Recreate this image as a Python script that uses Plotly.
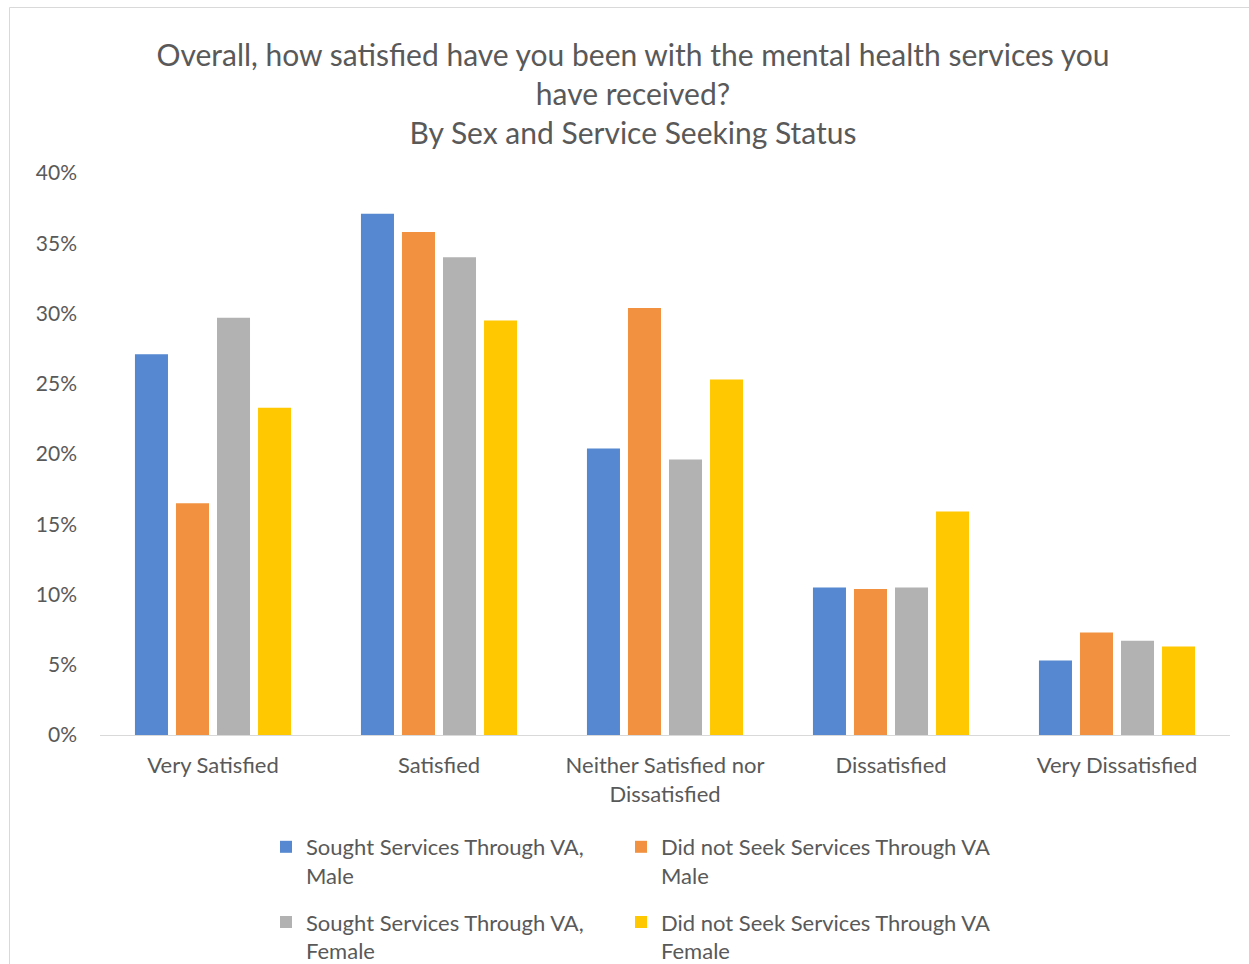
import plotly.graph_objects as go

categories = ["Very Satisfied", "Satisfied", "Neither Satisfied nor<br>Dissatisfied",
              "Dissatisfied", "Very Dissatisfied"]
series_names = ["Sought Services Through VA,<br>Male",
                "Did not Seek Services Through VA<br>Male",
                "Sought Services Through VA,<br>Female",
                "Did not Seek Services Through VA<br>Female"]
va_male = [0.271, 0.371, 0.204, 0.105, 0.053]
nonva_male = [0.165, 0.358, 0.304, 0.104, 0.073]
va_female = [0.297, 0.340, 0.196, 0.105, 0.067]
nonva_female = [0.233, 0.295, 0.253, 0.159, 0.063]
colors = ["#5588D0", "#F29240", "#B2B2B2", "#FFC800"]
legend_ids = ["legend", "legend2", "legend", "legend2"]
y_ticks = [0, 0.05, 0.10, 0.15, 0.20, 0.25, 0.30, 0.35, 0.40]

FONT = "Lato"
TXT = "#595959"

W, H = 1249, 964
L, R, T, B = 100, 19, 173, 229
pw = W - L - R
ph = H - T - B

fig = go.Figure()
for i, vals in enumerate([va_male, nonva_male, va_female, nonva_female]):
    fig.add_trace(go.Bar(
        x=categories, y=vals, name=series_names[i],
        marker=dict(color=colors[i], line=dict(width=0)),
        legend=legend_ids[i], legendgroup=f"g{i}",
    ))

def px2x(p):
    return (p - L) / pw

def py2y(p):
    return (H - B - p) / ph

fig.update_layout(
    width=W, height=H, autosize=False,
    margin=dict(l=L, r=R, t=T, b=B, autoexpand=False),
    paper_bgcolor="white", plot_bgcolor="white",
    font=dict(family=FONT, color=TXT, size=22),
    barmode="group", bargap=0.274, bargroupgap=0.195,
    title=dict(
        text="Overall, how satisfied have you been with the mental health services you<br>have received?<br>By Sex and Service Seeking Status",
        x=px2x(633), xref="paper", xanchor="center",
        y=1 - 66 / H, yref="container", yanchor="top",
        font=dict(family=FONT, size=30, color=TXT),
    ),
    xaxis=dict(showgrid=False, showline=True, linecolor="#D9D9D9", linewidth=1,
               ticks="", tickfont=dict(size=22, color=TXT), ticklabelstandoff=11),
    yaxis=dict(range=[0, 0.40], tickvals=y_ticks, tickformat=".0%",
               showgrid=False, zeroline=False, showline=False, ticks="",
               tickfont=dict(size=21, color=TXT), ticklabelstandoff=22),
    legend=dict(orientation="v", x=px2x(266), xanchor="left", y=py2y(826), yanchor="top",
                font=dict(size=22, color=TXT), tracegroupgap=15, bgcolor="rgba(0,0,0,0)",
                itemwidth=30, valign="top"),
    legend2=dict(orientation="v", x=px2x(621), xanchor="left", y=py2y(826), yanchor="top",
                 font=dict(size=22, color=TXT), tracegroupgap=15, bgcolor="rgba(0,0,0,0)",
                 itemwidth=30, valign="top"),
    shapes=[dict(type="rect", xref="paper", yref="paper",
                 x0=px2x(9.5), x1=px2x(1265), y0=py2y(990), y1=py2y(7.5),
                 line=dict(color="#D9D9D9", width=1), fillcolor="rgba(0,0,0,0)", layer="below")],
)

fig.write_html("out.html",
               config={"responsive": False, "displayModeBar": False},
               post_script="document.body.style.margin='0';document.documentElement.style.overflow='hidden';")
